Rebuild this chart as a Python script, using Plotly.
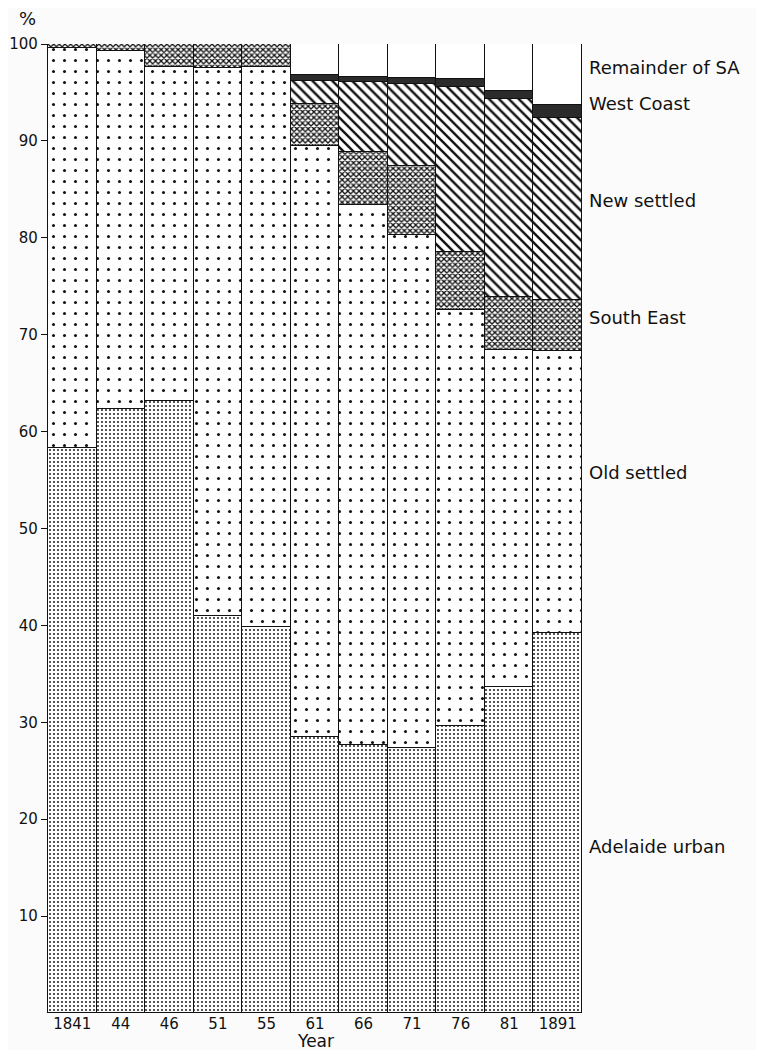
import plotly.graph_objects as go

# ---- data (percent of South Australian population) ----
years = ["1841", "44", "46", "51", "55", "61", "66", "71", "76", "81", "1891"]
adelaide_urban = [58.3, 62.3, 63.2, 41.0, 39.8, 28.5, 27.7, 27.3, 29.6, 33.6, 39.2]
old_settled = [41.3, 37.0, 34.4, 56.5, 57.8, 61.0, 55.7, 53.0, 43.0, 34.8, 29.1]
south_east = [0.4, 0.7, 2.4, 2.5, 2.4, 4.3, 5.5, 7.1, 5.9, 5.5, 5.3]
new_settled = [0, 0, 0, 0, 0, 2.4, 7.2, 8.5, 17.1, 20.4, 18.8]
west_coast = [0, 0, 0, 0, 0, 0.6, 0.5, 0.6, 0.8, 0.9, 1.3]
remainder = [0, 0, 0, 0, 0, 3.2, 3.4, 3.5, 3.6, 4.8, 6.3]

y_ticks = [10, 20, 30, 40, 50, 60, 70, 80, 90, 100]
region_labels = ["Remainder of SA", "West Coast", "New settled",
                 "South East", "Old settled", "Adelaide urban"]
label_y = [97.6, 93.9, 83.8, 71.8, 55.8, 17.2]

FONT = "DejaVu Sans"
INK = "#111111"
PAPER = "#fbfbfb"

series = [
    ("Adelaide urban", adelaide_urban, dict(shape=".", size=4, solidity=0.18)),
    ("Old settled", old_settled, dict(shape=".", size=11, solidity=0.06)),
    ("South East", south_east, dict(shape="x", size=4, solidity=0.55)),
    ("New settled", new_settled, dict(shape="\\", size=7, solidity=0.35)),
    ("West Coast", west_coast, None),
    ("Remainder of SA", remainder, None),
]

fig = go.Figure()
for name, vals, pat in series:
    if pat is not None:
        marker = dict(color="white",
                      pattern=dict(fgcolor=INK, bgcolor="white", fillmode="overlay",
                                   fgopacity=1, **pat),
                      line=dict(color=INK, width=1.3))
    elif name == "West Coast":
        marker = dict(color="#2b2b2b", line=dict(color=INK, width=1.3))
    else:
        marker = dict(color="white", line=dict(color=INK, width=1.3))
    fig.add_trace(go.Bar(x=years, y=vals, name=name, marker=marker,
                         showlegend=False, hoverinfo="name+y"))

annotations = []
for txt, yy in zip(region_labels, label_y):
    annotations.append(dict(text=txt, x=1, xref="paper", y=yy, yref="y",
                            xanchor="left", yanchor="middle", xshift=5,
                            showarrow=False, font=dict(family=FONT, size=18, color=INK)))
annotations.append(dict(text="%", x=-0.038, xref="paper", y=1.026, yref="paper",
                        xanchor="center", yanchor="middle", showarrow=False,
                        font=dict(family=FONT, size=18, color=INK)))
annotations.append(dict(text="Year", x=0.5, xref="paper", y=-0.029, yref="paper",
                        xanchor="center", yanchor="middle", showarrow=False,
                        font=dict(family=FONT, size=17, color=INK)))

fig.update_layout(
    width=756, height=1042,
    margin=dict(l=40, r=182, t=36, b=37),
    barmode="stack", bargap=0,
    paper_bgcolor=PAPER, plot_bgcolor=PAPER,
    font=dict(family=FONT, size=15, color=INK),
    annotations=annotations,
    xaxis=dict(type="category", showgrid=False, zeroline=False, showline=False,
               ticks="", tickfont=dict(family=FONT, size=15, color=INK),
               automargin=False, fixedrange=True),
    yaxis=dict(range=[0, 100], tickvals=y_ticks, ticktext=[str(v) for v in y_ticks],
               showgrid=False, zeroline=False, showline=True, linecolor=INK, linewidth=1.3,
               ticks="outside", ticklen=6, tickwidth=1.3, tickcolor=INK,
               tickfont=dict(family=FONT, size=15, color=INK),
               automargin=False, fixedrange=True),
)

fig.write_html("out.html")
